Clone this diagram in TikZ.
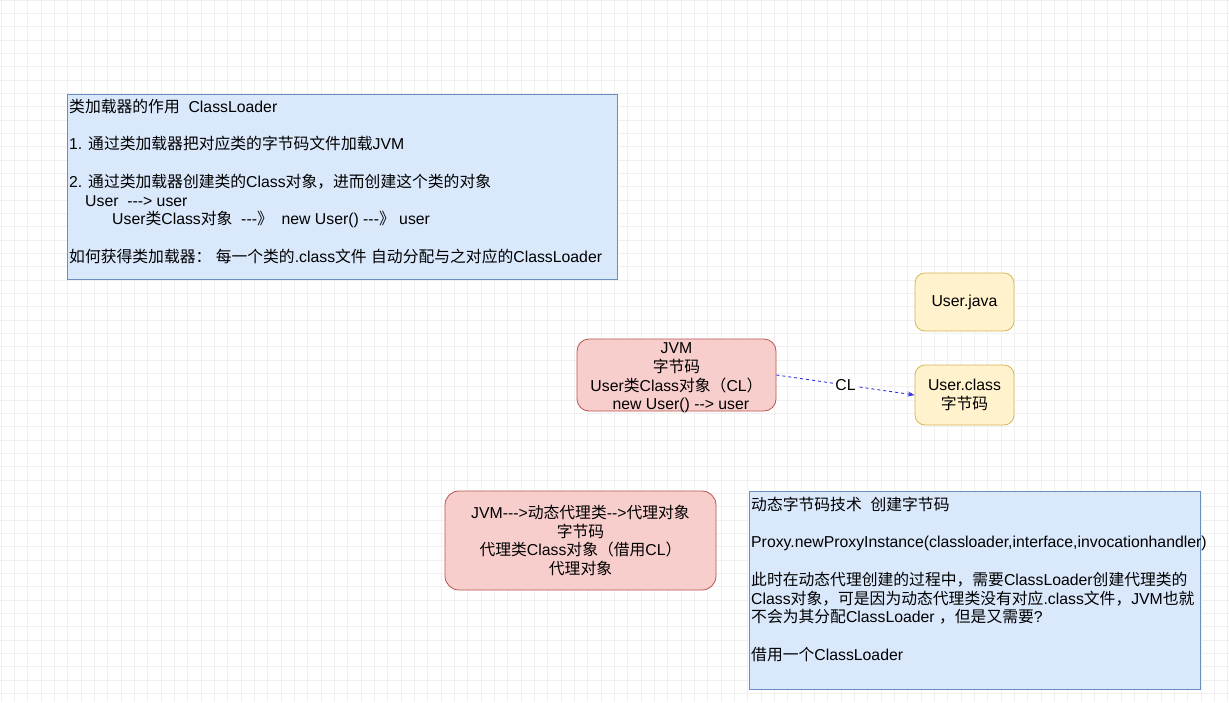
\documentclass[tikz,border=0pt]{standalone}
\usepackage{fontspec}
\setmainfont{Liberation Sans}[Ligatures=TeXOff]
\newfontfamily\cjkfont{Noto Sans CJK SC}
\usetikzlibrary{arrows.meta}

\newcommand{\cn}[1]{{\cjkfont #1}}

\definecolor{infofill}{HTML}{DAE8FC}
\definecolor{infodraw}{HTML}{6C8EBF}
\definecolor{jvmfill}{HTML}{F8CECC}
\definecolor{jvmdraw}{HTML}{B85450}
\definecolor{filefill}{HTML}{FFF2CC}
\definecolor{filedraw}{HTML}{D6B656}
\definecolor{clblue}{HTML}{3333E0}

\tikzset{
  gridline/.style={draw=black!6, line width=0.6pt},
  infobox/.style={draw=infodraw, fill=infofill, line width=0.8pt, inner sep=0pt, anchor=north west},
  infotext/.style={anchor=north west, inner sep=0pt, align=left},
  jvmbox/.style={draw=jvmdraw, fill=jvmfill, line width=0.8pt, rounded corners=12pt, inner sep=0pt, align=center},
  boxtext/.style={inner sep=0pt, align=center},
  filebox/.style={draw=filedraw, fill=filefill, line width=0.8pt, rounded corners=10pt, inner sep=0pt,
    minimum width=99pt, align=center},
  clarrow/.style={draw=clblue, dashed, line width=0.9pt, -{Stealth[length=7pt,width=5pt]}},
  cllabel/.style={fill=white, inner sep=1pt}
}

\begin{document}
\begin{tikzpicture}[x=1pt,y=-1pt,font=\fontsize{15.8}{18.7}\selectfont]
\useasboundingbox (0,0) rectangle (1229,702);
\fill[white] (0,0) rectangle (1229,702);

% background grid
\foreach \k in {0,...,92} {\draw[gridline] ({\k*13.333+1},0) -- ++(0,702);}
\foreach \k in {0,...,52} {\draw[gridline] (0,{\k*13.333}) -- ++(1229,0);}

% class loader notes
\node[infobox, minimum width=550pt, minimum height=185pt] (role) at (67,94) {};
\node[infotext] (roletext) at (69,99) {%
\cn{类加载器的作用}\ \ ClassLoader\\[18.7pt]
1. \cn{通过类加载器把对应类的字节码文件加载}JVM\\[18.7pt]
2. \cn{通过类加载器创建类的}Class\cn{对象，进而创建这个类的对象}\\
\hspace*{16pt}User\ \ ---> user\\
\hspace*{43pt}User\cn{类}Class\cn{对象}\ \ ---\cn{》}\ \ new User() ---\cn{》} user\\[18.7pt]
\cn{如何获得类加载器：}\ \cn{每一个类的}.class\cn{文件} \cn{自动分配与之对应的}ClassLoader};

% jvm and files
\node[jvmbox, minimum width=199pt, minimum height=72pt] (jvm) at (676.5,375) {};
\node[boxtext] (jvmtext) at ([yshift=-3pt]jvm.center) {%
JVM\\ \cn{字节码}\\ User\cn{类}Class\cn{对象（}CL\cn{）}\\ \ \ new User() --> user};
\node[filebox, minimum height=58pt] (ujava) at (964.5,302) {User.java};
\node[filebox, minimum height=60pt] (ucls) at (964.5,395) {User.class\\ \cn{字节码}};

\draw[clarrow] (jvm.east) -- node[cllabel] {CL} (ucls.west);

% dynamic proxy
\node[jvmbox, rounded corners=14pt, minimum width=271pt, minimum height=99pt] (proxy) at (580.5,540.5) {%
JVM--->\cn{动态代理类}-->\cn{代理对象}\\ \cn{字节码}\\ \cn{代理类}Class\cn{对象（借用}CL\cn{）}\\ \cn{代理对象}};

\node[infobox, minimum width=451pt, minimum height=198pt] (dyn) at (749,491) {};
\node[infotext] (dyntext) at (751,497) {%
\cn{动态字节码技术}\ \ \cn{创建字节码}\\[18.7pt]
Proxy.newProxyInstance(classloader,interface,invocationhandler)\\[18.7pt]
\cn{此时在动态代理创建的过程中，需要}ClassLoader\cn{创建代理类的}\\
Class\cn{对象，可是因为动态代理类没有对应}.class\cn{文件，}JVM\cn{也就}\\
\cn{不会为其分配}ClassLoader\ \cn{，但是又需要}?\\[18.7pt]
\cn{借用一个}ClassLoader};
\end{tikzpicture}
\end{document}
